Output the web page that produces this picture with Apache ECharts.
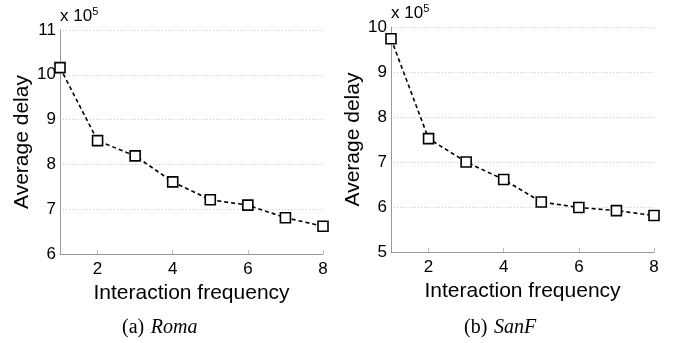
<!DOCTYPE html>
<html>
<head>
<meta charset="utf-8">
<script src="https://cdn.jsdelivr.net/npm/echarts@6/dist/echarts.min.js"></script>
<style>
html,body{margin:0;padding:0;background:#fff;}
#chart{width:677px;height:343px;}
</style>
</head>
<body>
<div id="chart"></div>
<script>
const frequencies = [1, 2, 3, 4, 5, 6, 7, 8];
const romaDelay = [10.16, 8.53, 8.19, 7.61, 7.21, 7.09, 6.81, 6.62];
const sanfDelay = [9.74, 7.52, 7.0, 6.61, 6.11, 5.99, 5.92, 5.81];
const xTicks = [2, 4, 6, 8];
const xTitle = 'Interaction frequency';
const yTitle = 'Average delay';
const captions = ['(a)', '(b)'];
const captionNames = ['Roma', 'SanF'];

const FONT = "'Liberation Sans', Arial, sans-serif";
const SERIF = "'Liberation Serif', 'Times New Roman', serif";
const chart = echarts.init(document.getElementById('chart'), null, {renderer: 'canvas'});

function xAxis(gi) {
  return {
    type: 'value', gridIndex: gi, min: 1, max: 8, interval: 1,
    name: xTitle, nameLocation: 'middle', nameGap: 24,
    nameTextStyle: {fontFamily: FONT, fontSize: 21, color: '#000'},
    axisLine: {show: true, onZero: false, lineStyle: {color: '#999', width: 1}},
    axisTick: {show: true, inside: true, length: 4, customValues: xTicks, lineStyle: {color: '#bbb'}},
    axisLabel: {customValues: xTicks, fontFamily: FONT, fontSize: 17, color: '#000', margin: 7},
    splitLine: {show: false}
  };
}
function yAxis(gi, min, max) {
  return {
    type: 'value', gridIndex: gi, min: min, max: max, interval: 1,
    name: yTitle, nameLocation: 'middle', nameGap: 25, nameRotate: 90,
    nameTextStyle: {fontFamily: FONT, fontSize: 21, color: '#000'},
    axisLine: {show: true, onZero: false, lineStyle: {color: '#999', width: 1}},
    axisTick: {show: false},
    axisLabel: {fontFamily: FONT, fontSize: 17, color: '#000', margin: 4},
    splitLine: {show: true, lineStyle: {color: '#c8c8c8', type: [1, 2], width: 1}}
  };
}
function series(gi, data) {
  return {
    type: 'line', xAxisIndex: gi, yAxisIndex: gi,
    data: frequencies.map((f, i) => [f, data[i]]),
    symbol: 'rect', symbolSize: 10,
    itemStyle: {color: '#fff', borderColor: '#000', borderWidth: 1.6},
    lineStyle: {color: '#000', width: 1.6, type: [4, 3]},
    smooth: false, clip: false, animation: false, z: 3
  };
}
const supRich = {
  b: {fontFamily: FONT, fontSize: 17, color: '#000'},
  s: {fontFamily: FONT, fontSize: 11, color: '#000', verticalAlign: 'top', padding: [0, 0, 10, 0]}
};
const capRich = {
  n: {fontFamily: SERIF, fontSize: 20, color: '#000'},
  i: {fontFamily: SERIF, fontSize: 20, fontStyle: 'italic', color: '#000'}
};
const option = {
  backgroundColor: '#fff',
  animation: false,
  grid: [
    {left: 60, top: 30, width: 263, height: 224},
    {left: 391, top: 27, width: 263, height: 225}
  ],
  xAxis: [xAxis(0), xAxis(1)],
  yAxis: [yAxis(0, 6, 11), yAxis(1, 5, 10)],
  series: [series(0, romaDelay), series(1, sanfDelay)],
  graphic: [
    {type: 'text', left: 60, top: 6, style: {text: '{b|x 10}{s|5}', rich: supRich}},
    {type: 'text', left: 391, top: 3, style: {text: '{b|x 10}{s|5}', rich: supRich}},
    {type: 'text', left: 122, top: 318, style: {text: '{n|' + captions[0] + '}  {i|' + captionNames[0] + '}', rich: capRich}},
    {type: 'text', left: 464, top: 318, style: {text: '{n|' + captions[1] + '}  {i|' + captionNames[1] + '}', rich: capRich}}
  ]
};
chart.setOption(option);
</script>
</body>
</html>
